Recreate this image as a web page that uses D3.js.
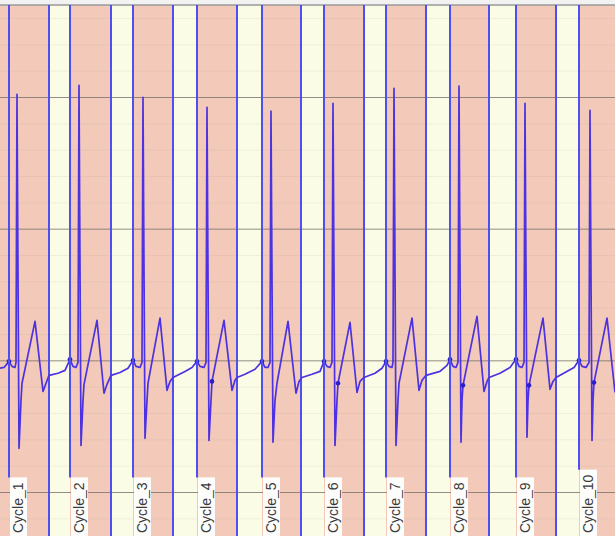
<!DOCTYPE html>
<html>
<head>
<meta charset="utf-8">
<script src="https://cdn.jsdelivr.net/npm/d3@7/dist/d3.min.js"></script>
<style>
  html, body { margin: 0; padding: 0; background: #ffffff; }
  svg { display: block; }
</style>
</head>
<body>
<svg id="chart" width="615" height="536"></svg>
<script>
// ---- Data (time in s, amplitude in mV) ----
const cycleLabels = ["Cycle_1","Cycle_2","Cycle_3","Cycle_4","Cycle_5","Cycle_6","Cycle_7","Cycle_8","Cycle_9","Cycle_10"];
const cycleStart = [0.09, 0.70, 1.33, 1.97, 2.62, 3.24, 3.86, 4.50, 5.16, 5.79];
const cycleEnd   = [0.49, 1.11, 1.73, 2.37, 3.01, 3.64, 4.26, 4.89, 5.56];
const majorTicks = [-0.5, 0, 0.5, 1.0];
const minorTicks = [-0.6, -0.4, -0.3, -0.2, -0.1, 0.1, 0.2, 0.3, 0.4, 0.6, 0.7, 0.8, 0.9, 1.1, 1.2, 1.3];

const signalTime = [
  0.00, 0.04, 0.09,
  0.12, 0.15, 0.16, 0.17, 0.19, 0.21, 0.22, 0.35, 0.43, 0.46, 0.49, 0.58, 0.65, 0.70,
  0.73, 0.76, 0.78, 0.79, 0.81, 0.83, 0.84, 0.97, 1.04, 1.07, 1.11, 1.20, 1.28, 1.33,
  1.36, 1.40, 1.42, 1.43, 1.45, 1.47, 1.48, 1.60, 1.67, 1.70, 1.73, 1.85, 1.92, 1.97,
  2.00, 2.04, 2.06, 2.07, 2.09, 2.11, 2.12, 2.24, 2.32, 2.35, 2.37, 2.45, 2.55, 2.62,
  2.65, 2.68, 2.70, 2.71, 2.73, 2.75, 2.77, 2.88, 2.96, 2.99, 3.02, 3.12, 3.20, 3.24,
  3.27, 3.30, 3.32, 3.33, 3.35, 3.37, 3.38, 3.50, 3.57, 3.60, 3.64, 3.75, 3.82, 3.86,
  3.89, 3.92, 3.93, 3.94, 3.96, 3.98, 3.99, 4.12, 4.19, 4.22, 4.26, 4.40, 4.47, 4.50,
  4.53, 4.56, 4.58, 4.59, 4.61, 4.62, 4.63, 4.77, 4.84, 4.87, 4.89, 5.00, 5.10, 5.16,
  5.19, 5.22, 5.24, 5.25, 5.27, 5.28, 5.29, 5.43, 5.50, 5.53, 5.56, 5.65, 5.74, 5.79,
  5.82, 5.86, 5.89, 5.90, 5.92, 5.93, 5.94, 6.07, 6.15
];
const signalMv = [
  -0.030, -0.027, -0.004,
  -0.023, -0.027, -0.008, 1.010, -0.334, -0.152, -0.087, 0.148, -0.118, -0.087, -0.057, -0.049, -0.038, 0.004,
  -0.023, -0.027, -0.008, 1.044, -0.323, -0.152, -0.091, 0.152, -0.125, -0.091, -0.057, -0.046, -0.030, 0.000,
  -0.023, -0.027, -0.008, 0.999, -0.296, -0.152, -0.087, 0.160, -0.114, -0.080, -0.065, -0.042, -0.027, -0.004,
  -0.023, -0.027, -0.008, 0.961, -0.304, -0.152, -0.080, 0.152, -0.114, -0.076, -0.065, -0.053, -0.034, -0.004,
  -0.027, -0.027, -0.008, 0.946, -0.311, -0.152, -0.087, 0.148, -0.125, -0.080, -0.065, -0.053, -0.042, -0.004,
  -0.023, -0.027, -0.008, 0.976, -0.323, -0.152, -0.087, 0.144, -0.122, -0.080, -0.065, -0.049, -0.030, -0.004,
  -0.023, -0.027, -0.008, 1.033, -0.323, -0.152, -0.087, 0.160, -0.114, -0.076, -0.057, -0.042, -0.019, 0.004,
  -0.023, -0.027, -0.008, 1.041, -0.311, -0.152, -0.095, 0.167, -0.118, -0.080, -0.065, -0.049, -0.027, 0.004,
  -0.023, -0.027, -0.008, 0.976, -0.292, -0.152, -0.095, 0.160, -0.110, -0.080, -0.065, -0.046, -0.027, 0.000,
  -0.023, -0.027, -0.008, 0.949, -0.304, -0.152, -0.084, 0.160, -0.122
];
const markerTime = [0.09, 0.70, 1.33, 1.97, 2.12, 2.62, 3.24, 3.38, 3.86, 4.50, 4.63, 5.16, 5.29, 5.79, 5.94];
const markerMv   = [-0.004, 0.004, 0.000, -0.004, -0.080, -0.004, -0.004, -0.087, -0.004, 0.004, -0.095, 0.004, -0.095, 0.000, -0.084];

// ---- Layout ----
const W = 615, H = 536, plotTop = 5;
const svg = d3.select("#chart");
const x = d3.scaleLinear().domain([0, 6.15]).range([0, W]);
const y = d3.scaleLinear().domain([-0.5, 1.0]).range([492, 97]);

// header strip
svg.append("rect").attr("x", 0).attr("y", 0).attr("width", W).attr("height", plotTop).attr("fill", "#f2f2f2");

// pink background (inside cycles)
svg.append("rect").attr("x", 0).attr("y", plotTop).attr("width", W).attr("height", H - plotTop).attr("fill", "#f3cab9");

// cream gaps between cycles
svg.selectAll("rect.gap").data(cycleEnd).enter().append("rect")
  .attr("class", "gap")
  .attr("x", d => x(d))
  .attr("y", plotTop)
  .attr("width", (d, i) => x(cycleStart[i + 1]) - x(d))
  .attr("height", H - plotTop)
  .attr("fill", "#fbfce6");

// minor grid
const minorAxis = d3.axisRight(y).tickValues(minorTicks).tickSize(W).tickFormat("");
svg.append("g").attr("class", "minor").call(minorAxis)
  .call(g => g.select(".domain").remove())
  .call(g => g.selectAll("line").attr("stroke", "#8a8a8a").attr("stroke-opacity", 0.1));

// major grid
const majorAxis = d3.axisRight(y).tickValues(majorTicks).tickSize(W).tickFormat("");
svg.append("g").attr("class", "major").call(majorAxis)
  .call(g => g.select(".domain").remove())
  .call(g => g.selectAll("line").attr("stroke", "#7a706a").attr("stroke-opacity", 0.8));

// top border
svg.append("line").attr("x1", 0).attr("x2", W).attr("y1", plotTop).attr("y2", plotTop)
  .attr("stroke", "#9a9a9a").attr("stroke-width", 1.5);

// cycle end lines (full height)
svg.selectAll("line.cend").data(cycleEnd).enter().append("line")
  .attr("class", "cend")
  .attr("x1", d => x(d)).attr("x2", d => x(d))
  .attr("y1", plotTop).attr("y2", H)
  .attr("stroke", "#4f4ff0").attr("stroke-width", 2);

// signal
const pts = signalTime.map((t, i) => ({ t: t, v: signalMv[i] }));
const line = d3.line().x(d => x(d.t)).y(d => y(d.v));
svg.append("path").datum(pts)
  .attr("d", line)
  .attr("fill", "none")
  .attr("stroke", "#4c32e0")
  .attr("stroke-width", 1.7)
  .attr("stroke-linejoin", "round");

// markers
svg.selectAll("circle.mk").data(markerTime).enter().append("circle")
  .attr("class", "mk")
  .attr("cx", d => x(d))
  .attr("cy", (d, i) => y(markerMv[i]))
  .attr("r", 2.3)
  .attr("fill", "#2a20c8");

// cycle labels with white boxes, start lines stop at the box
const labelG = svg.selectAll("g.lbl").data(cycleStart).enter().append("g").attr("class", "lbl");
labelG.each(function(d, i) {
  const g = d3.select(this);
  const x0 = x(d);
  const startLine = g.append("line");
  const box = g.append("rect").attr("fill", "#fdfdfb");
  const txt = g.append("text")
    .attr("transform", `translate(${x0 + 14},${H - 3}) rotate(-90)`)
    .attr("font-family", "'Liberation Sans', Arial, sans-serif")
    .attr("font-size", 14)
    .attr("fill", "#3a3a3a")
    .text(cycleLabels[i]);
  const len = txt.node().getComputedTextLength();
  const boxTop = H - 3 - len - 5;
  box.attr("x", x0 + 1).attr("y", boxTop).attr("width", 17).attr("height", H - boxTop);
  startLine.attr("x1", x0).attr("x2", x0)
    .attr("y1", plotTop).attr("y2", boxTop)
    .attr("stroke", "#4f4ff0").attr("stroke-width", 2);
});
</script>
</body>
</html>
